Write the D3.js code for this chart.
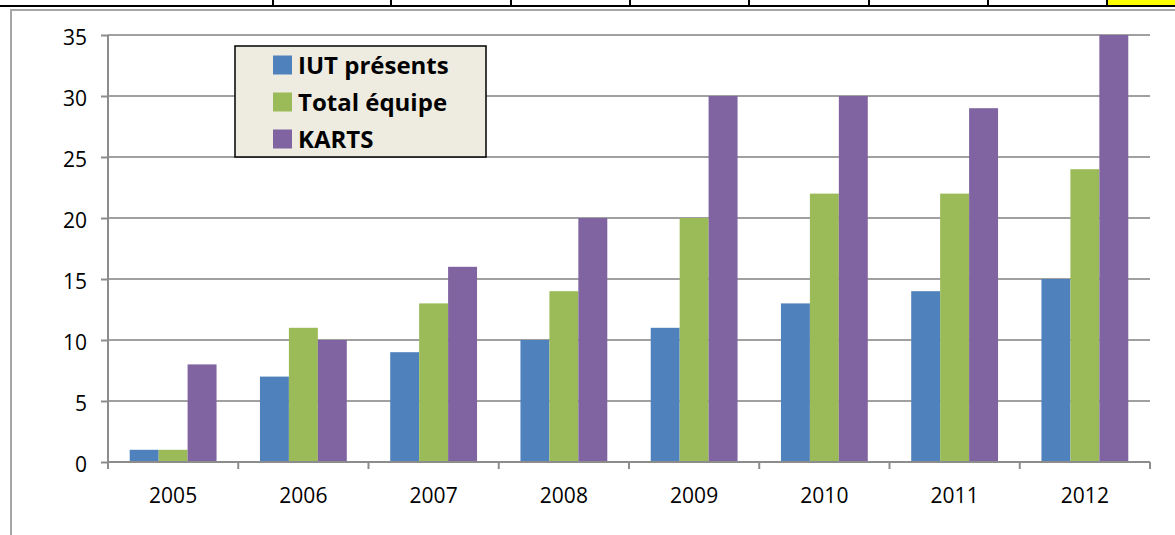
<!DOCTYPE html>
<html>
<head>
<meta charset="utf-8">
<script src="https://cdn.jsdelivr.net/npm/d3@7/dist/d3.min.js"></script>
<style>
  html, body { margin: 0; padding: 0; background: #fff; }
  svg { display: block; }
</style>
</head>
<body>
<script>
const categories = ["2005", "2006", "2007", "2008", "2009", "2010", "2011", "2012"];
const seriesNames = ["IUT présents", "Total équipe", "KARTS"];
const iutPresents = [1, 7, 9, 10, 11, 13, 14, 15];
const totalEquipe = [1, 11, 13, 14, 20, 22, 22, 24];
const karts = [8, 10, 16, 20, 30, 30, 29, 35];
const yTicks = [0, 5, 10, 15, 20, 25, 30, 35];
const colors = ["#4F81BD", "#9BBB59", "#8064A2"];

const seriesValues = [iutPresents, totalEquipe, karts];

const W = 1175, H = 535;
const svg = d3.select("body").append("svg").attr("width", W).attr("height", H);

// spreadsheet cells above the chart
const cellEdges = [273, 391, 511, 630, 749, 869, 988, 1107];
svg.append("rect").attr("x", 1107).attr("y", 0).attr("width", W - 1107).attr("height", 6).attr("fill", "#FFFF00");
cellEdges.forEach(x => {
  svg.append("line").attr("x1", x).attr("x2", x).attr("y1", 0).attr("y2", 6)
    .attr("stroke", "#000").attr("stroke-width", 2);
});
svg.append("line").attr("x1", 0).attr("x2", W).attr("y1", 6).attr("y2", 6)
  .attr("stroke", "#000").attr("stroke-width", 2);

// chart area border
svg.append("path").attr("d", `M11,${H + 2} V10 H${W + 2}`)
  .attr("fill", "none").attr("stroke", "#A6A6A6").attr("stroke-width", 2);

const plot = { left: 108, right: 1150, top: 35, bottom: 462 };

const x = d3.scaleBand().domain(categories).range([plot.left, plot.right]).paddingInner(0).paddingOuter(0);
const y = d3.scaleLinear().domain([0, 35]).range([plot.bottom, plot.top]);

const bw = x.bandwidth() / 4.5;

// gridlines
svg.append("g").selectAll("line").data(yTicks.filter(d => d > 0)).join("line")
  .attr("x1", plot.left).attr("x2", plot.right)
  .attr("y1", d => y(d)).attr("y2", d => y(d))
  .attr("stroke", "#A0A0A0").attr("stroke-width", 2);

// bars
seriesValues.forEach((vals, si) => {
  svg.append("g").selectAll("rect").data(vals).join("rect")
    .attr("x", (d, i) => x(categories[i]) + 0.75 * bw + si * bw)
    .attr("y", d => y(d))
    .attr("width", bw)
    .attr("height", d => y(0) - y(d))
    .attr("fill", colors[si]);
});

// y axis
const yAxis = svg.append("g").attr("transform", `translate(${plot.left},0)`)
  .call(d3.axisLeft(y).tickValues(yTicks).tickSize(7).tickPadding(14).tickFormat(d3.format("d")));
yAxis.select(".domain").attr("stroke", "#8C8C8C").attr("stroke-width", 2).attr("d", `M0,${plot.top}V${plot.bottom}`);
yAxis.selectAll(".tick line").attr("stroke", "#8C8C8C").attr("stroke-width", 2);
yAxis.selectAll(".tick text").attr("font-family", "Open Sans, sans-serif").attr("font-size", 21)
  .attr("fill", "#000").attr("dy", "0.45em");

// x axis
const xAxis = svg.append("g").attr("transform", `translate(0,${plot.bottom})`)
  .call(d3.axisBottom(x).tickSize(0).tickPadding(26));
xAxis.select(".domain").attr("stroke", "#8C8C8C").attr("stroke-width", 2).attr("d", `M${plot.left},0H${plot.right}`);
xAxis.selectAll(".tick text").attr("font-family", "Open Sans, sans-serif").attr("font-size", 21).attr("fill", "#000");
// category separator ticks
const sepPositions = categories.map(c => x(c)).concat([plot.right]);
xAxis.append("g").selectAll("line").data(sepPositions).join("line")
  .attr("x1", d => d).attr("x2", d => d).attr("y1", 0).attr("y2", 7)
  .attr("stroke", "#8C8C8C").attr("stroke-width", 2);

// legend
const lg = svg.append("g");
lg.append("rect").attr("x", 235).attr("y", 46).attr("width", 251).attr("height", 111)
  .attr("fill", "#EEECE1").attr("stroke", "#000").attr("stroke-width", 1.5);
const rowY = [65, 102, 139];
seriesNames.forEach((name, i) => {
  lg.append("rect").attr("x", 273).attr("y", rowY[i] - 9.5).attr("width", 19).attr("height", 19).attr("fill", colors[i]);
  lg.append("text").attr("x", 298).attr("y", rowY[i]).attr("dy", "0.36em")
    .attr("font-family", "Open Sans, sans-serif").attr("font-weight", "bold").attr("font-size", 24)
    .attr("fill", "#000").text(name);
});
</script>
</body>
</html>
